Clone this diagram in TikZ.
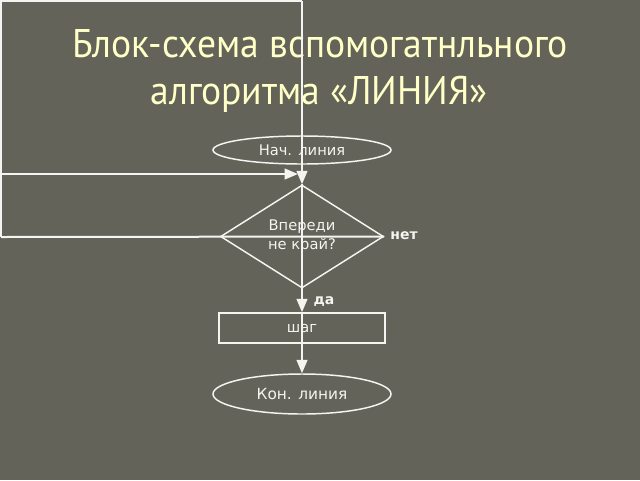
\documentclass[tikz,border=0pt]{standalone}
\usepackage{fontspec}
\setmainfont{DejaVu Sans}
\newfontfamily\titlefont[FakeStretch=0.94]{PT Sans}
\usetikzlibrary{shapes.geometric,arrows.meta}
\definecolor{bg}{HTML}{636359}
\definecolor{ttl}{HTML}{FFFFC8}
\definecolor{ln}{HTML}{F4F4F0}
\begin{document}
\begin{tikzpicture}[x=0.75pt,y=-0.75pt,
  titlestyle/.style={text=ttl, font=\titlefont\fontsize{30}{36}\selectfont, inner sep=0pt},
  shp/.style={draw=ln, line width=1.1pt, inner sep=0pt, text=ln, align=center, font=\fontsize{11}{14}\selectfont},
  conn/.style={draw=ln, line width=1.5pt},
  arr/.style={conn, -{Triangle[length=10pt,width=8pt]}},
  lbl/.style={text=ln, font=\bfseries\fontsize{10.5}{12}\selectfont, inner sep=0pt}]
\fill[bg] (0,0) rectangle (640,480);
\useasboundingbox (0,0) rectangle (640,480);
% title
\node[titlestyle, anchor=base] (t1) at (320,57) {Блок-схема вспомогатнльного};
\node[titlestyle, anchor=base] (t2) at (319,104) {алгоритма «ЛИНИЯ»};
% nodes
\node[shp, ellipse, minimum width=133.5pt, minimum height=21pt] (start) at (302,150) {Нач. линия};
\node[shp, diamond, aspect=1.58, minimum width=122.25pt, minimum height=77.25pt] (cond) at (302,236.5) {Впереди\\не край?};
\node[shp, rectangle, minimum width=124.5pt, minimum height=22.5pt] (stepbox) at (302,328) {шаг};
\node[shp, ellipse, minimum width=133.5pt, minimum height=30pt, font=\fontsize{11.5}{14}\selectfont] (finish) at (302,394) {Кон. линия};
% free ends
\coordinate (tl) at (1,1);
\coordinate (tr) at (302,1);
\coordinate (ml) at (1,174);
\coordinate (mr) at (298,174);
\coordinate (bl) at (1,237);
% connectors
\draw[conn] (bl) -- (tl) -- (tr);
\draw[arr] (tr) -- (cond.north);
\draw[arr] (ml) -- (mr);
\draw[conn] (bl) -- (cond.east);
\draw[conn] (cond.north) -- (cond.south);
\draw[arr] (cond.south) -- (stepbox.north);
\draw[conn] (stepbox.north) -- (stepbox.south);
\draw[arr] (stepbox.south) -- (finish.north);
% labels
\node[lbl] (no) at (404,236) {нет};
\node[lbl] (yes) at (324,302) {да};
\end{tikzpicture}
\end{document}
